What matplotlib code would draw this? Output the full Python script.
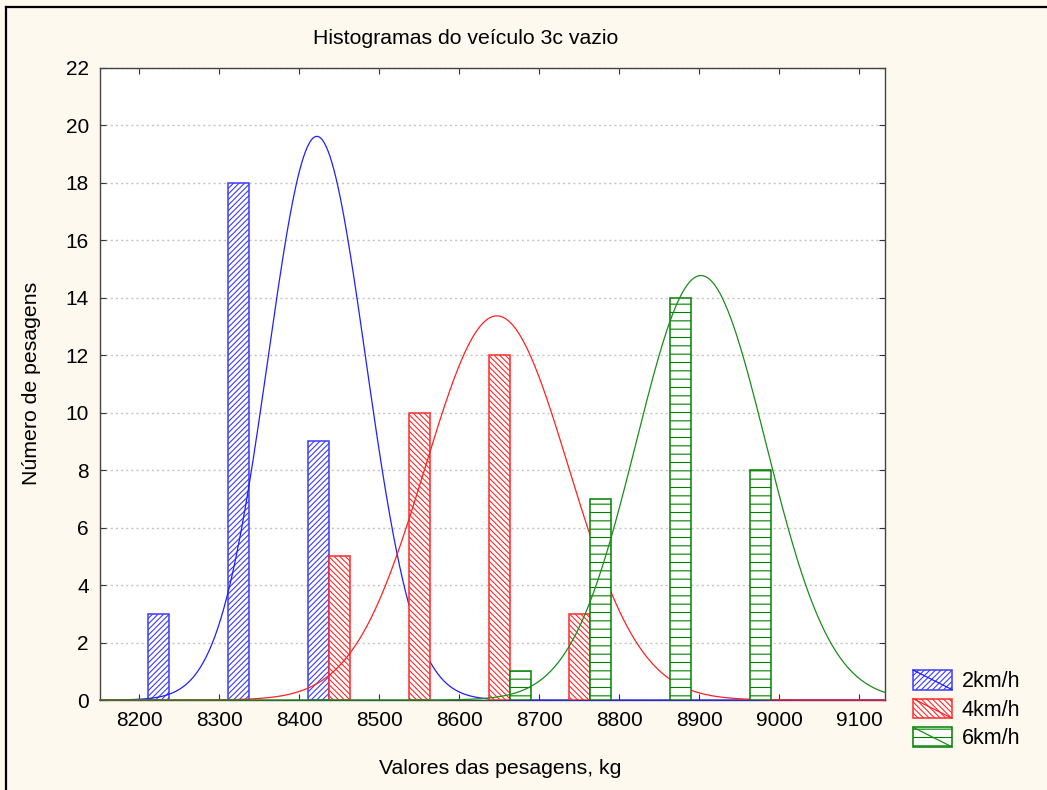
import numpy as np
import matplotlib
matplotlib.use("Agg")
import matplotlib.pyplot as plt
from matplotlib.patches import Rectangle, Patch
from matplotlib.lines import Line2D
from matplotlib.legend_handler import HandlerBase

# ---- data -------------------------------------------------------------
bin_centers = [8250, 8350, 8450, 8550, 8650, 8750, 8850, 8950]
counts_2kmh = [3, 18, 9, 0, 0, 0, 0, 0]
counts_4kmh = [0, 0, 5, 10, 12, 3, 0, 0]
counts_6kmh = [0, 0, 0, 0, 1, 7, 14, 8]

series_labels = ["2km/h", "4km/h", "6km/h"]
fit_means = [8422, 8647, 8902]
fit_sds = [61, 89.5, 81]
n_obs = [30, 30, 30]
bin_width = 100

x_ticks = list(range(8200, 9101, 100))
y_ticks = list(range(0, 23, 2))

# ---- style ------------------------------------------------------------
plt.rcParams["font.family"] = ["Liberation Sans", "DejaVu Sans"]
plt.rcParams["hatch.linewidth"] = 0.8

bg = "#fdf9ee"
edge_colors = ["#3c3cff", "#ff2a2a", "#008000"]
curve_colors = ["#1f1fff", "#ff2020", "#1a8c1a"]
hatches = ["//////", "\\\\\\\\\\\\", "--"]
offsets = [-26, 0, 26]
bar_w = 26

W, H = 1047, 790
fig = plt.figure(figsize=(W / 100, H / 100), dpi=100, facecolor=bg)
ax = fig.add_axes([100 / W, 1 - 700 / H, 785 / W, 632 / H])
ax.set_facecolor("white")

xmin, xmax = 8151, 9132
ax.set_xlim(xmin, xmax)
ax.set_ylim(0, 22)

all_counts = [counts_2kmh, counts_4kmh, counts_6kmh]
xs = np.linspace(xmin, xmax, 800)
z = 2.0
handles = []
for i, counts in enumerate(all_counts):
    cx = [c + offsets[i] for c, v in zip(bin_centers, counts) if v > 0]
    cv = [v for v in counts if v > 0]
    ax.bar(cx, cv, width=bar_w, facecolor="white", edgecolor=edge_colors[i],
           hatch=hatches[i], linewidth=1.1, zorder=z)
    z += 0.1
    # fitted normal curve scaled to counts per bin
    pdf = np.exp(-0.5 * ((xs - fit_means[i]) / fit_sds[i]) ** 2) / (fit_sds[i] * np.sqrt(2 * np.pi))
    ax.plot(xs, n_obs[i] * bin_width * pdf, color=curve_colors[i], lw=0.9,
            zorder=z, clip_on=False)
    z += 0.1
    handles.append((Patch(facecolor="white", edgecolor=edge_colors[i], hatch=hatches[i]),
                    Line2D([], [], color=curve_colors[i])))

ax.set_xticks(x_ticks)
ax.set_yticks(y_ticks)
ax.tick_params(direction="in", length=4, width=0.8, color="#333333",
               labelsize=15, pad=8, top=True, right=True)
ax.grid(axis="y", color="#c4c4c4", linestyle=(0, (1.5, 2.2)), linewidth=1.0, zorder=0.5)
ax.set_axisbelow(True)
for s in ax.spines.values():
    s.set_color("#444444")
    s.set_linewidth(1.0)
    s.set_zorder(1.5)

# texts
txt_fs = 15.3
fig.text(466 / W, 1 - 39 / H, "Histogramas do veículo 3c vazio", ha="center", va="center",
         fontsize=txt_fs)
fig.text(500 / W, 1 - 769 / H, "Valores das pesagens, kg", ha="center", va="center",
         fontsize=txt_fs)
fig.text(32 / W, 1 - 383 / H, "Número de pesagens", ha="center", va="center",
         rotation=90, fontsize=txt_fs)


class HistCurveHandler(HandlerBase):
    def create_artists(self, legend, orig_handle, xdescent, ydescent, width, height,
                       fontsize, trans):
        patch, line = orig_handle
        r = Rectangle((-xdescent, -ydescent), width, height, facecolor="white",
                      edgecolor=patch.get_edgecolor(), hatch=patch.get_hatch(),
                      linewidth=1.1, transform=trans)
        ln = Line2D([-xdescent, -xdescent + width], [-ydescent + height, -ydescent],
                    color=line.get_color(), linewidth=0.9, transform=trans)
        return [r, ln]


fs = 15.5
fs_px = fs * 100 / 72
leg = fig.legend(handles, series_labels, handler_map={tuple: HistCurveHandler()},
                 loc="upper left", bbox_to_anchor=(913 / W, 1 - 670 / H),
                 bbox_transform=fig.transFigure, frameon=False, borderpad=0,
                 borderaxespad=0, fontsize=fs, handlelength=39 / fs_px,
                 handleheight=22 / fs_px, labelspacing=6.5 / fs_px,
                 handletextpad=10 / fs_px)

# figure border on the left and top
fig.add_artist(Line2D([6 / W, 6 / W], [0, 1 - 7 / H], color="black", lw=1.6,
                      transform=fig.transFigure))
fig.add_artist(Line2D([6 / W, 1], [1 - 7 / H, 1 - 7 / H], color="black", lw=1.6,
                      transform=fig.transFigure))

fig.savefig("out.png", dpi=100, facecolor=bg)
